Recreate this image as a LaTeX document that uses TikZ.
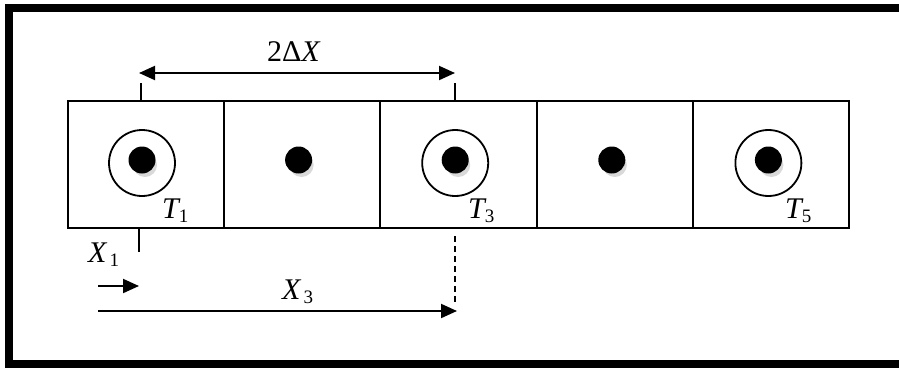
\documentclass[tikz,border=0pt]{standalone}
\usepackage{fontspec}
\setmainfont{Liberation Serif}
\usetikzlibrary{arrows.meta,calc}
\tikzset{
  cellbox/.style={draw, line width=2pt, minimum width=156.2pt, minimum height=127pt, inner sep=0pt},
  ring/.style={draw, line width=1.8pt},
  dimline/.style={line width=2pt},
  tickline/.style={line width=1.6pt},
  lbl/.style={anchor=base west, inner sep=0pt, font=\fontsize{30}{30}\selectfont\itshape},
  tip/.style={-{Triangle[length=16pt,width=14pt]}},
}
\newcommand{\sbs}[1]{\raisebox{-0.35ex}{\fontsize{19}{19}\selectfont\upshape #1}}
\begin{document}
\begin{tikzpicture}[x=1pt,y=-1pt]
\useasboundingbox (0,0) rectangle (899,367);
% outer frame (open on the right)
\draw[line width=8pt] (899,8) -- (9,8) -- (9,363.5) -- (899,363.5);
% cells
\foreach \i in {1,...,5}{
  \node[cellbox] (c\i) at ({68+78.1+156.2*(\i-1)},164.5) {};
}
% dots
\foreach \i in {1,...,5}{
  \coordinate (d\i) at ({142+156.6*(\i-1)},160);
  \fill[gray!30] ($(d\i)+(3,5)$) circle (12);
  \fill[black] (d\i) circle (13.5);
}
\foreach \i in {1,3,5}{
  \node[ring, circle, minimum size=66pt, inner sep=0pt] (r\i) at ($(d\i)+(0,3)$) {};
}
% labels T
\node[lbl] (t1) at (162,218) {T\sbs{1}};
\node[lbl] (t3) at (468,218) {T\sbs{3}};
\node[lbl] (t5) at (785,218) {T\sbs{5}};
% top dimension
\coordinate (a1) at (141,83);
\coordinate (a1b) at (141,101);
\coordinate (a3) at (455,83);
\coordinate (a3b) at (455,101);
\draw[tickline] (a1) -- (a1b);
\draw[tickline] (a3) -- (a3b);
\coordinate (h1) at (139,73);
\coordinate (h3) at (455,73);
\draw[dimline, {Triangle[length=16pt,width=14pt]}-{Triangle[length=16pt,width=14pt]}] (h1) -- (h3);
\node[lbl] (dx) at (267,61) {\upshape 2Δ\textit{X}};
% bottom
\coordinate (b1) at (139,228);
\coordinate (b1b) at (139,252);
\draw[tickline] (b1) -- (b1b);
\coordinate (b3) at (455,236);
\coordinate (b3b) at (455,302);
\draw[tickline, dash pattern=on 6pt off 4pt] (b3) -- (b3b);
\coordinate (s1) at (98,286);
\coordinate (e1) at (139,286);
\draw[dimline, tip] (s1) -- (e1);
\coordinate (s3) at (98,311);
\coordinate (e3) at (457,311);
\draw[dimline, tip] (s3) -- (e3);
\node[lbl] (x1) at (88,262) {X\hspace{3pt}\sbs{1}};
\node[lbl] (x3) at (282,299) {X\hspace{3pt}\sbs{3}};
\end{tikzpicture}
\end{document}
